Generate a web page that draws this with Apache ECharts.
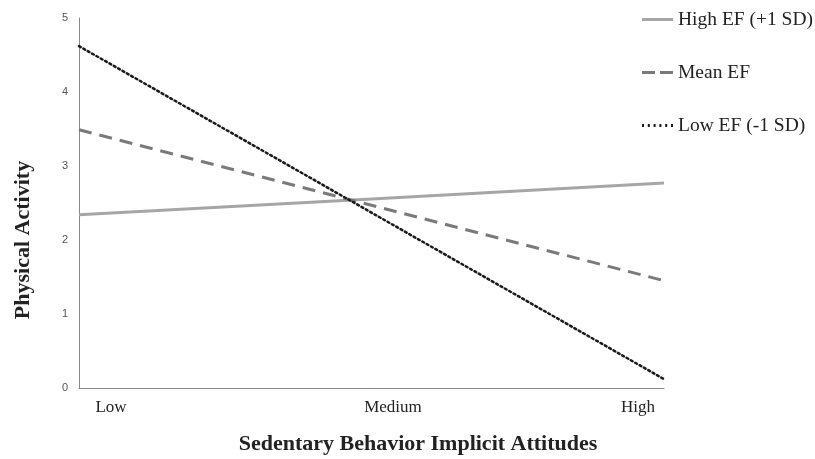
<!DOCTYPE html>
<html><head><meta charset="utf-8">
<script src="https://cdn.jsdelivr.net/npm/echarts@6/dist/echarts.min.js"></script>
<style>html,body{margin:0;padding:0;background:#fff}#c{width:815px;height:459px}</style>
</head><body><div id="c"></div>
<script>
var categories = ['Low', 'Medium', 'High'];
var highEF = [2.34, 2.555, 2.77];
var meanEF = [3.49, 2.47, 1.45];
var lowEF = [4.62, 2.37, 0.12];
var seriesNames = ['High EF (+1 SD)', 'Mean EF', 'Low EF (-1 SD)'];
var yTicks = [0, 1, 2, 3, 4, 5];

var colors = ['#a6a6a6', '#7a7a7a', '#1a1a1a'];
var iconSolid = 'path://M0,0H31V3H0Z';
var iconDash = 'path://M0,0H13V3H0Z M18,0H31V3H18Z';
var iconDot = 'path://M0,0H2V3H0Z M5.8,0H7.8V3H5.8Z M11.6,0H13.6V3H11.6Z M17.4,0H19.4V3H17.4Z M23.2,0H25.2V3H23.2Z M29,0H31V3H29Z';

var chart = echarts.init(document.getElementById('c'), null, {renderer: 'canvas'});
var serif = '"Liberation Serif", "Times New Roman", serif';
chart.setOption({
  animation: false,
  backgroundColor: '#fff',
  grid: {left: 79, right: 151, top: 18, bottom: 71, containLabel: false, outerBoundsMode: 'none'},
  legend: {
    orient: 'vertical',
    left: 642, top: 9.5, padding: 0,
    itemWidth: 31, itemHeight: 3, itemGap: 33,
    textStyle: {fontFamily: serif, fontSize: 19.5, color: '#222'},
    data: [
      {name: seriesNames[0], icon: iconSolid, itemStyle: {color: colors[0], borderWidth: 0}},
      {name: seriesNames[1], icon: iconDash, itemStyle: {color: colors[1], borderWidth: 0}},
      {name: seriesNames[2], icon: iconDot, itemStyle: {color: colors[2], borderWidth: 0}}
    ]
  },
  xAxis: {
    type: 'category', data: categories, boundaryGap: false,
    axisLine: {lineStyle: {color: '#888', width: 1}},
    axisTick: {show: false},
    axisLabel: {
      margin: 11, interval: 0, fontFamily: serif, fontSize: 17, color: '#222',
      formatter: function(v, i){ return ['{a|', '{b|', '{c|'][i] + v + '}'; },
      rich: {
        a: {fontFamily: serif, fontSize: 17, color: '#222', padding: [0,0,0,64]},
        b: {fontFamily: serif, fontSize: 17, color: '#222', padding: [0,0,0,43]},
        c: {fontFamily: serif, fontSize: 17, color: '#222', padding: [0,52,0,0]}
      }
    },
    name: 'Sedentary Behavior Implicit Attitudes',
    nameLocation: 'middle', nameGap: 45,
    nameTextStyle: {fontFamily: serif, fontSize: 22, fontWeight: 'bold', color: '#222', padding: [0,0,0,93]}
  },
  yAxis: {
    type: 'value', min: yTicks[0], max: yTicks[yTicks.length-1], interval: 1,
    splitLine: {show: false},
    axisLine: {show: true, lineStyle: {color: '#888', width: 1}},
    axisTick: {show: false},
    axisLabel: {margin: 11, fontFamily: '"Liberation Sans", Arial, sans-serif', fontSize: 11, color: '#555'},
    name: 'Physical Activity', nameLocation: 'middle', nameGap: 45, nameRotate: 90,
    nameTextStyle: {fontFamily: serif, fontSize: 22, fontWeight: 'bold', color: '#222', padding: [0,74,0,0]}
  },
  series: [
    {name: seriesNames[0], type: 'line', data: highEF, symbol: 'none',
     lineStyle: {color: colors[0], width: 3, type: 'solid'}, itemStyle: {color: colors[0]}},
    {name: seriesNames[1], type: 'line', data: meanEF, symbol: 'none',
     lineStyle: {color: colors[1], width: 3, type: [13, 8]}, itemStyle: {color: colors[1]}},
    {name: seriesNames[2], type: 'line', data: lowEF, symbol: 'none',
     lineStyle: {color: colors[2], width: 2.5, type: [2, 3], cap: 'round'}, itemStyle: {color: colors[2]}}
  ]
});
</script></body></html>
